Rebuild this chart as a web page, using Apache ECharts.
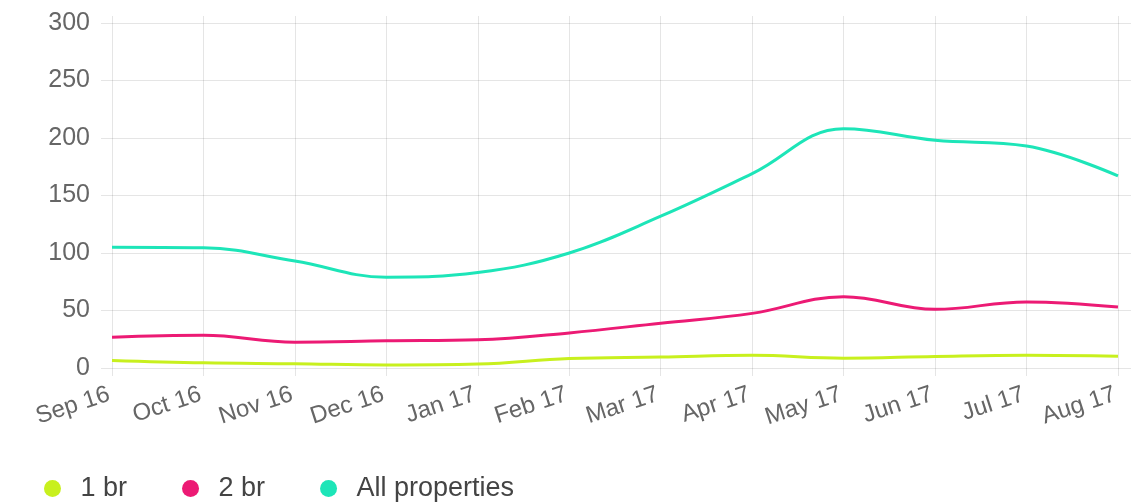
<!DOCTYPE html>
<html>
<head>
<meta charset="utf-8">
<script src="https://cdn.jsdelivr.net/npm/echarts@6/dist/echarts.min.js"></script>
<style>
html,body{margin:0;padding:0;background:#fff;}
#chart{width:1145px;height:503px;}
</style>
</head>
<body>
<div id="chart"></div>
<script>
var months = ['Sep 16','Oct 16','Nov 16','Dec 16','Jan 17','Feb 17','Mar 17','Apr 17','May 17','Jun 17','Jul 17','Aug 17'];
var oneBr = [6.6, 4.5, 3.7, 2.6, 3.4, 8.3, 9.5, 11, 8.5, 10, 11, 10.2];
var twoBr = [26.8, 28.5, 22.5, 23.6, 24.5, 30.5, 39, 47.5, 62, 51, 57.5, 53];
var allProps = [105, 104.5, 93, 79, 83, 100, 132, 169, 208, 198, 193, 167];
var yTicks = [0, 50, 100, 150, 200, 250, 300];

var FONT = "'Liberation Sans', Arial, sans-serif";
var GRID_COLOR = 'rgba(0,0,0,0.1)';
var colors = {one: '#c8f01e', two: '#ec1a74', all: '#1de5b8'};

var chart = echarts.init(document.getElementById('chart'), null, {renderer: 'canvas'});
var yMax = yTicks[yTicks.length - 1];
chart.setOption({
  animation: false,
  textStyle: {fontFamily: FONT},
  grid: [
    {left: 101, right: 14, top: 23, bottom: 135},
    {left: 112, right: 27, top: 16, bottom: 135}
  ],
  xAxis: [
    {gridIndex: 0, type: 'value', show: false, min: 0, max: 1},
    {
      gridIndex: 1, type: 'category', data: months, boundaryGap: false,
      axisLine: {show: false},
      axisTick: {show: true, length: 8, lineStyle: {color: GRID_COLOR}},
      splitLine: {show: true, lineStyle: {color: GRID_COLOR, width: 1}},
      axisLabel: {rotate: 18, fontSize: 24, color: '#666', margin: 25, padding: [0, 3, 0, 0], fontFamily: FONT, interval: 0}
    }
  ],
  yAxis: [
    {
      gridIndex: 0, type: 'value', min: 0, max: yMax, interval: 50,
      axisLine: {show: false}, axisTick: {show: false},
      splitLine: {show: true, lineStyle: {color: GRID_COLOR, width: 1}},
      axisLabel: {fontSize: 25, color: '#666', margin: 11, fontFamily: FONT}
    },
    {
      gridIndex: 1, type: 'value', min: 0, max: yMax * 352 / 345,
      show: false, splitLine: {show: false}
    }
  ],
  legend: {
    left: 39, top: 470, icon: 'circle',
    itemWidth: 46, itemHeight: 17, itemGap: 55,
    itemStyle: {borderWidth: 0},
    textStyle: {fontSize: 27, color: '#444', fontFamily: FONT, lineHeight: 27, padding: 0},
    data: ['1 br', '2 br', 'All properties']
  },
  series: [
    {name: '1 br', type: 'line', xAxisIndex: 1, yAxisIndex: 1, data: oneBr, smooth: 0.4, symbol: 'none',
     lineStyle: {width: 3, color: colors.one}, itemStyle: {color: colors.one}},
    {name: '2 br', type: 'line', xAxisIndex: 1, yAxisIndex: 1, data: twoBr, smooth: 0.4, symbol: 'none',
     lineStyle: {width: 3, color: colors.two}, itemStyle: {color: colors.two}},
    {name: 'All properties', type: 'line', xAxisIndex: 1, yAxisIndex: 1, data: allProps, smooth: 0.4, symbol: 'none',
     lineStyle: {width: 3, color: colors.all}, itemStyle: {color: colors.all}}
  ]
});
</script>
</body>
</html>
